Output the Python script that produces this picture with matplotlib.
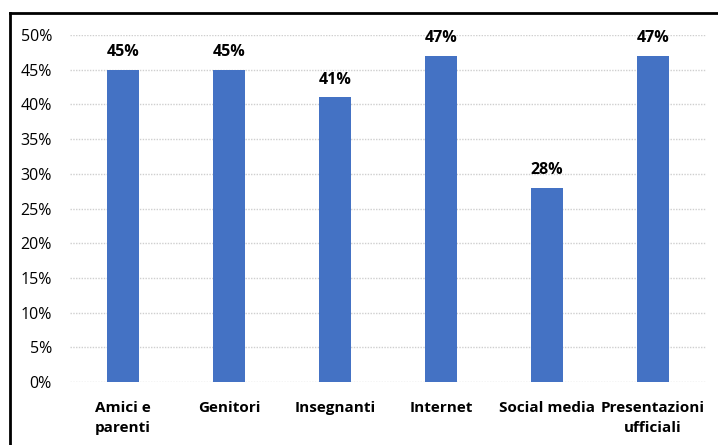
import matplotlib
matplotlib.use("Agg")
import matplotlib.pyplot as plt
from matplotlib.lines import Line2D
from matplotlib.ticker import PercentFormatter

categories = ["Amici e\nparenti", "Genitori", "Insegnanti", "Internet", "Social media", "Presentazioni\nufficiali"]
values = [0.45, 0.45, 0.41, 0.47, 0.28, 0.47]
yticks = [0, 0.05, 0.10, 0.15, 0.20, 0.25, 0.30, 0.35, 0.40, 0.45, 0.50]

plt.rcParams['font.family'] = ['Open Sans', 'DejaVu Sans']

fig = plt.figure(figsize=(7.18, 4.45), dpi=100)
ax = fig.add_axes([70/718, 1-382/445, 636/718, 347/445])

x = list(range(len(categories)))
bars = ax.bar(x, values, width=0.31, color="#4472C4", zorder=3)
ax.set_xlim(-0.5, len(categories)-0.5)
ax.set_ylim(0, 0.5)
ax.set_yticks(yticks)
ax.yaxis.set_major_formatter(PercentFormatter(1.0, decimals=0))
ax.grid(axis='y', color="#cfcfcf", linestyle=(0, (1, 1)), linewidth=1, zorder=0)
ax.set_xticks(x)
ax.set_xticklabels(categories, fontweight='bold', fontsize=11, color="#000000", linespacing=1.55)
ax.tick_params(axis='y', labelsize=11.5, colors="#000000", length=0, pad=13)
ax.tick_params(axis='x', length=0, pad=14)
for s in ax.spines.values():
    s.set_visible(False)

for xi, v in zip(x, values):
    ax.annotate(f"{round(v*100)}%", (xi, v), xytext=(0, 7), textcoords='offset points',
                ha='center', va='bottom', fontweight='bold', fontsize=11.5)

# partial border (left and top)
fig.add_artist(Line2D([9.5/718, 9.5/718], [0, 1-12.5/445], transform=fig.transFigure, color='black', lw=2))
fig.add_artist(Line2D([9.5/718, 1], [1-12.5/445, 1-12.5/445], transform=fig.transFigure, color='black', lw=2))

fig.savefig("out.png", dpi=100)
